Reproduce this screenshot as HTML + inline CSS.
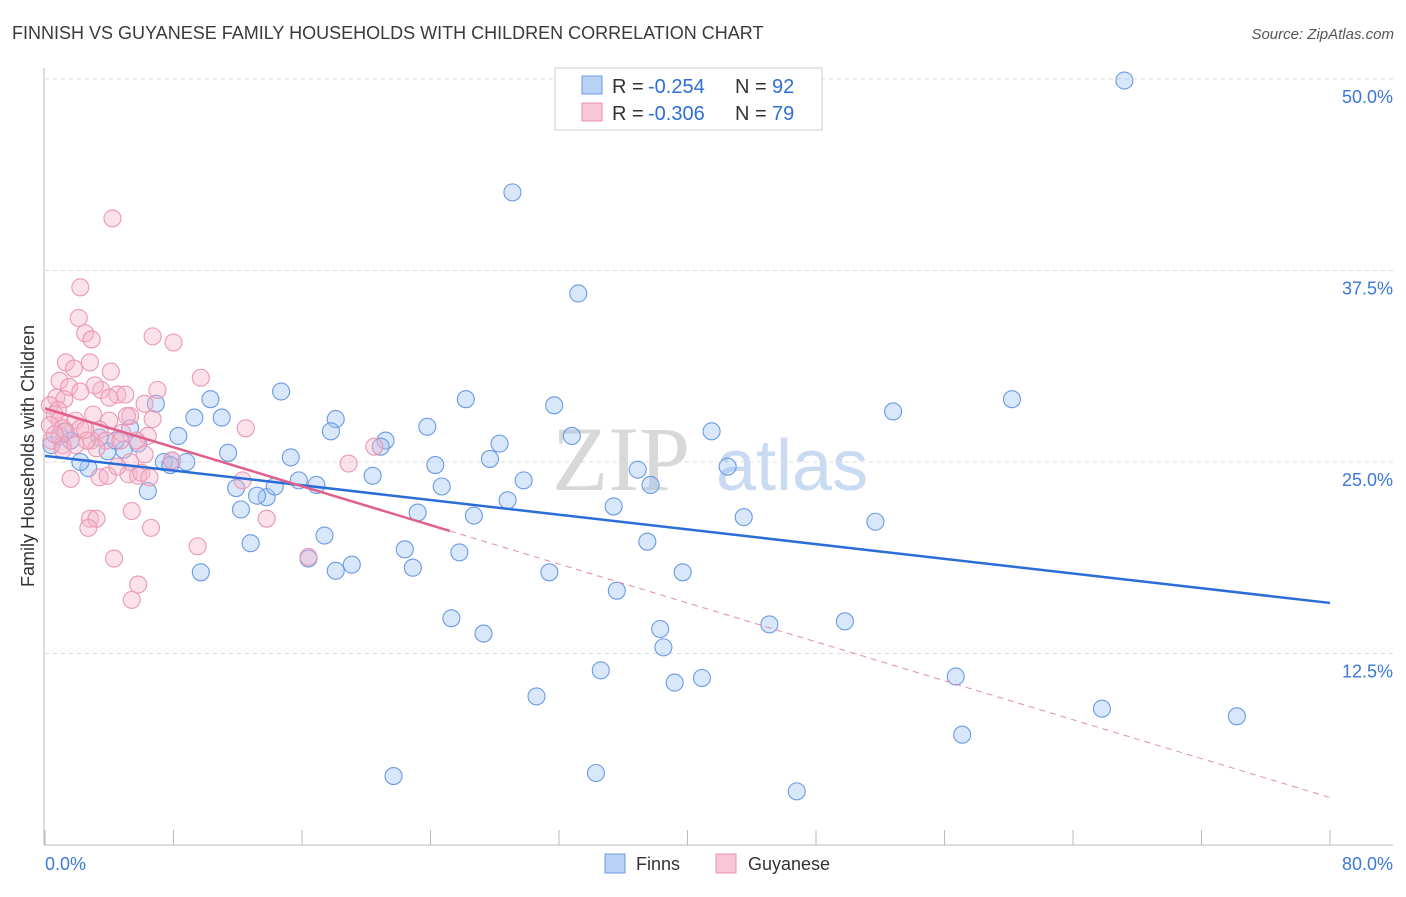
<!DOCTYPE html>
<html><head><meta charset="utf-8"><style>
body{margin:0;background:#fff;font-family:"Liberation Sans",sans-serif;}
</style></head><body>
<svg id="chart" width="1406" height="892" xmlns="http://www.w3.org/2000/svg">
<text x="12" y="39" font-size="18" fill="#3a3a3a">FINNISH VS GUYANESE FAMILY HOUSEHOLDS WITH CHILDREN CORRELATION CHART</text>
<text x="1394" y="39" font-size="15" fill="#555" text-anchor="end" font-style="italic">Source: ZipAtlas.com</text>
<text x="690" y="490" font-size="92" fill="#d8d8d8" text-anchor="end" font-family="Liberation Serif,serif">ZIP</text>
<text x="716" y="490" font-size="72" fill="#c9dbf3">atlas</text>
<g id="grid"></g>
<g id="axes"></g>
<g id="marks"></g>
<text transform="translate(34,456) rotate(-90)" font-size="18" fill="#333" text-anchor="middle">Family Households with Children</text>
<g>
<rect x="555" y="68" width="267" height="62" fill="#fff" stroke="#ccc"/>
<rect x="582" y="76" width="20" height="18" fill="#b9d1f5" stroke="#6c9be3"/>
<rect x="582" y="103" width="20" height="18" fill="#f9c6d6" stroke="#ea93b0"/>
<text x="612" y="93" font-size="20" fill="#333">R =</text>
<text x="648" y="93" font-size="20" fill="#2d6fd6">-0.254</text>
<text x="735" y="93" font-size="20" fill="#333">N =</text>
<text x="772" y="93" font-size="20" fill="#2d6fd6">92</text>
<text x="612" y="120" font-size="20" fill="#333">R =</text>
<text x="648" y="120" font-size="20" fill="#2d6fd6">-0.306</text>
<text x="735" y="120" font-size="20" fill="#333">N =</text>
<text x="772" y="120" font-size="20" fill="#2d6fd6">79</text>
</g>
<g>
<rect x="605" y="854" width="20" height="19" fill="#b9d1f5" stroke="#6c9be3"/>
<text x="636" y="870" font-size="18" fill="#333">Finns</text>
<rect x="716" y="854" width="20" height="19" fill="#f9c6d6" stroke="#ea93b0"/>
<text x="748" y="870" font-size="18" fill="#333">Guyanese</text>
</g>
</svg>
<script>
const xTicks=[0,80];
const yTicks=[12.5,25,37.5,50];
const finnsX=[67.2,29.1,33.2,14.7,10.3,6.9,9.3,11.0,18.1,26.2,31.7,52.8,60.2,23.8,17.8,8.3,32.8,41.5,21.2,20.9,28.3,0.4,1.2,4.9,5.8,3.9,11.4,15.3,7.9,7.4,8.8,24.3,27.7,42.5,36.9,2.7,20.4,15.8,16.9,29.8,37.7,11.9,6.4,24.7,13.8,13.2,14.3,28.8,35.4,12.2,23.2,26.7,43.5,51.7,17.4,37.5,12.8,22.4,25.8,16.4,19.1,18.1,22.9,31.4,39.7,9.7,35.6,25.3,45.1,49.8,38.3,27.3,38.5,34.6,56.7,39.2,40.9,30.6,65.8,74.2,57.1,21.7,34.3,46.8,1.6,0.9,5.3,4.4,3.4,2.2,7.8];
const finnsY=[49.9,42.6,36.0,29.6,29.1,28.8,27.9,27.9,27.8,29.1,28.7,28.3,29.1,27.3,27.0,26.7,26.7,27.0,26.4,26.0,26.2,26.1,27.0,25.8,26.2,25.7,25.6,25.3,25.1,25.0,25.0,24.8,25.2,24.7,24.5,24.6,24.1,23.8,23.5,23.8,23.5,23.3,23.1,23.4,22.7,22.8,23.4,22.5,22.1,21.9,21.7,21.5,21.4,21.1,20.2,19.8,19.7,19.3,19.1,18.7,18.3,17.9,18.1,17.8,17.8,17.8,16.6,14.8,14.4,14.6,14.1,13.8,12.9,11.4,11.0,10.6,10.9,9.7,8.9,8.4,7.2,4.5,4.7,3.5,26.4,26.7,27.2,26.4,26.6,25.0,24.8];
const guyX=[4.2,2.2,2.1,2.5,2.9,6.7,8.0,1.3,2.8,1.8,4.1,9.7,0.9,7.0,3.5,1.5,2.2,3.1,0.7,1.2,4.5,5.0,0.3,0.8,6.2,4.0,0.6,3.0,5.3,6.7,12.5,0.9,1.9,4.0,5.1,0.3,1.1,2.2,3.4,1.3,4.8,6.4,0.4,2.9,3.8,4.7,5.7,1.1,3.2,6.2,7.9,5.3,2.6,20.5,18.9,12.3,1.6,3.4,3.9,5.2,5.8,6.0,4.5,2.8,3.2,5.4,13.8,2.7,6.6,9.5,4.3,16.4,5.8,5.4,1.1,1.9,0.6,6.5,2.5];
const guyY=[40.9,36.4,34.4,33.4,33.0,33.2,32.8,31.5,31.5,31.1,30.9,30.5,30.3,29.7,29.7,29.9,29.6,30.0,29.2,29.1,29.4,29.4,28.7,28.4,28.8,29.2,28.1,28.1,28.0,27.8,27.2,27.7,27.7,27.7,28.0,27.4,27.2,27.2,27.1,27.0,26.9,26.7,26.4,26.4,26.4,26.4,26.4,26.1,25.9,25.5,25.1,25.0,26.4,26.0,24.9,23.8,23.9,24.0,24.1,24.2,24.1,24.3,24.7,21.3,21.3,21.8,21.3,20.7,20.7,19.5,18.7,18.8,17.0,16.0,25.8,26.1,26.8,24.0,27.1];
const finnsTrend=[25.4,15.8];
const guyTrend=[28.5,3.1];
const guySolidEnd=25.2;

const X0=45,X1=1330,Y0=845,Y1=79;
const sx=v=>X0+(v-0)/80*(X1-X0);
const sy=v=>Y0-(v/50)*(Y0-Y1);
const NS='http://www.w3.org/2000/svg';
function mk(tag,attrs,parent){const e=document.createElementNS(NS,tag);for(const k in attrs)e.setAttribute(k,attrs[k]);parent.appendChild(e);return e;}
const grid=document.getElementById('grid'),axes=document.getElementById('axes'),marks=document.getElementById('marks');
yTicks.forEach(t=>{
  const l=mk('line',{x1:X0,x2:1393,y1:sy(t),y2:sy(t),stroke:'#ddd','stroke-dasharray':'4,4'},grid);
  
  
  const tx=mk('text',{x:1393,y:sy(t)+24,'font-size':18,fill:'#3b78d8','text-anchor':'end'},axes);
  tx.textContent=t.toFixed(1)+'%';
  
  
});
mk('line',{x1:44,x2:44,y1:68,y2:845,stroke:'#bbb'},axes);
mk('line',{x1:44,x2:1393,y1:845,y2:845,stroke:'#bbb'},axes);
for(let i=0;i<=10;i++){const x=sx(i*8);mk('line',{x1:x,x2:x,y1:830,y2:845,stroke:'#bbb'},axes);}
xTicks.forEach((t,i)=>{
  const tx=mk('text',{x:i==0?45:1393,y:870,'font-size':18,fill:'#3b78d8','text-anchor':i==0?'start':'end'},axes);
  tx.textContent=t.toFixed(1)+'%';
  
  
});
finnsX.forEach((v,i)=>{
  const c=mk('circle',{cx:sx(v),cy:sy(finnsY[i]),r:8.5,fill:'rgba(160,196,242,0.4)',stroke:'#6a9ae4','stroke-width':1.1},marks);
  
  
});
guyX.forEach((v,i)=>{
  const c=mk('circle',{cx:sx(v),cy:sy(guyY[i]),r:8.5,fill:'rgba(246,182,202,0.4)',stroke:'#eb97b3','stroke-width':1.1},marks);
  
  
});
const gy=x=>guyTrend[0]+(guyTrend[1]-guyTrend[0])*x/80;
const bl=mk('line',{x1:sx(0),y1:sy(finnsTrend[0]),x2:sx(80),y2:sy(finnsTrend[1]),stroke:'#2a6dd9','stroke-width':2.5},marks);


const pl=mk('line',{x1:sx(0),y1:sy(gy(0)),x2:sx(guySolidEnd),y2:sy(gy(guySolidEnd)),stroke:'#e0608b','stroke-width':2.5},marks);


const pd=mk('line',{x1:sx(guySolidEnd),y1:sy(gy(guySolidEnd)),x2:sx(80),y2:sy(gy(80)),stroke:'#e88aa8','stroke-width':1,'stroke-dasharray':'6,5'},marks);


</script>
</body></html>
